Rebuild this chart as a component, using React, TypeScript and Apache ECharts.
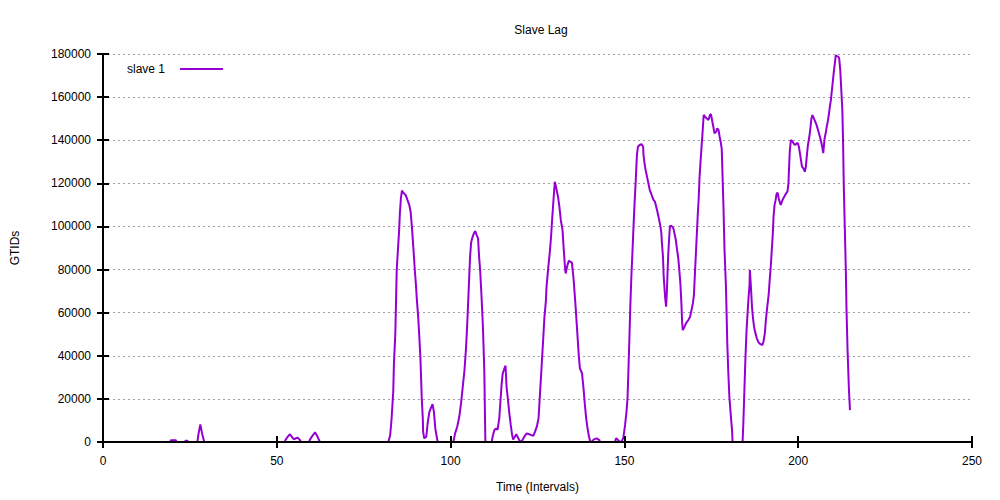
import React, { useEffect, useRef } from "react";
import * as echarts from "echarts";

const title = "Slave Lag";
const seriesName = "slave 1";
const xTicks = [0, 50, 100, 150, 200, 250];
const yTicks = [0, 20000, 40000, 60000, 80000, 100000, 120000, 140000, 160000, 180000];

const intervals = [
  0, 19, 19.5, 21, 21.5, 23.3, 23.7, 24.3, 24.7, 27, 27.5, 28, 28.5, 29.2, 29.8,
  52, 52.5, 53.3, 53.8, 54.5, 55, 55.5, 56, 56.5, 57.2, 57.8, 59, 59.5, 60.3, 61, 61.7, 62.4, 63,
  81.5, 82.1, 82.6, 83, 83.5, 83.7, 84.1, 84.3, 84.5, 84.9, 85.2, 85.4, 85.7, 86.0, 86.4, 87.1, 87.6,
  88.1, 88.5, 88.9, 89.3, 89.7, 90.0, 90.3, 90.7, 91.0, 91.3, 91.5, 91.7, 92.0, 92.1, 92.4, 93.0,
  93.4, 93.9, 94.4, 94.8, 95.2, 95.6, 96.0, 96.3, 97, 98.5, 100, 100.8, 101.3, 101.9, 102.5, 103.0,
  103.4, 104.0, 104.4, 104.7, 105.0, 105.3, 105.6, 105.9, 106.2, 106.7, 107.1, 107.5, 107.9, 108.2,
  108.5, 108.9, 109.3, 109.7, 109.9, 110.0, 110.8, 111.5, 111.8, 112.1, 112.6, 113.1, 113.5, 114.0,
  114.4, 114.7, 115.0, 115.5, 115.8, 116.1, 116.5, 116.9, 117.3, 117.7, 118.0, 118.5, 118.9, 119.5,
  120.0, 120.7, 121.2, 121.9, 122.6, 123.3, 123.8, 124.3, 124.8, 125.3, 125.7, 126.2, 126.7, 127.0,
  127.4, 127.6, 128.1, 128.6, 128.9, 129.2, 129.5, 129.8, 130.0, 130.5, 130.9, 131.3, 131.7, 132.2,
  132.5, 132.9, 133.1, 133.5, 134.0, 134.5, 134.9, 135.4, 135.9, 136.4, 136.9, 137.2, 137.8, 138.2,
  138.6, 139.0, 139.4, 139.8, 140.2, 140.7, 141.2, 142.0, 142.8, 143.3, 147.0, 147.3, 147.6, 148.0,
  148.7, 149.2, 149.7, 150.2, 150.6, 150.9, 151.1, 151.4, 151.7, 152.0, 152.3, 152.6, 152.9, 153.2,
  153.4, 153.6, 153.9, 154.4, 154.9, 155.4, 155.5, 155.8, 156.1, 156.5, 156.9, 157.3, 157.7, 158.0,
  158.4, 158.8, 159.1, 159.5, 159.9, 160.3, 160.6, 160.8, 161.1, 161.3, 161.7, 162.0, 162.2, 162.4,
  162.6, 162.9, 163.1, 163.6, 164.1, 164.4, 164.8, 165.1, 165.5, 165.8, 166.1, 166.4, 166.6, 166.8,
  167.3, 167.8, 168.4, 168.9, 169.3, 169.7, 170.0, 170.2, 170.5, 170.8, 171.1, 171.4, 171.6, 171.9,
  172.2, 172.5, 172.8, 173.2, 173.7, 174.2, 174.6, 174.9, 175.3, 175.6, 175.9, 176.4, 176.7, 177.1,
  177.4, 177.7, 178.0, 178.3, 178.5, 178.8, 179.2, 179.4, 179.6, 179.9, 180.2, 180.6, 181.0, 181.1,
  182, 183.2, 184.0, 184.2, 184.5, 184.8, 185.1, 185.4, 185.7, 186.0, 186.1, 186.4, 186.7, 187.0,
  187.3, 187.7, 188.1, 188.5, 189.0, 189.7, 190.0, 190.4, 190.7, 191.1, 191.5, 191.8, 192.1, 192.4,
  192.7, 192.9, 193.2, 193.5, 193.8, 194.1, 194.4, 194.8, 195.0, 195.3, 195.7, 196.1, 196.5, 196.9,
  197.2, 197.4, 197.6, 197.9, 198.1, 198.4, 198.8, 199.2, 199.6, 199.9, 200.2, 200.5, 200.8, 201.1,
  201.5, 201.9, 202.2, 202.5, 202.8, 203.2, 203.5, 203.8, 204.1, 204.5, 204.9, 205.3, 205.7, 206.1,
  206.5, 206.9, 207.2, 207.6, 207.9, 208.2, 208.5, 208.8, 209.1, 209.4, 209.7, 210.0, 210.3, 210.6,
  210.8, 211.1, 211.6, 211.8, 212.1, 212.4, 212.7, 212.9, 213.1, 213.4, 213.7, 213.9, 214.2, 214.6,
  214.9,
];

const gtids = [
  -1500, -1500, 800, 800, -1500, -1500, 600, 600, -1500, -1500, 4000, 8200, 4000, -500, -1500,
  -1500, 1000, 2800, 3600, 2000, 1200, 1800, 2000, 1200, -500, -1500, -1500, 1000, 3000, 4500, 2500, 0, -1500,
  -1500, 0, 3000, 10200, 23300, 36600, 50400, 65100, 79800, 90600, 98300, 106000, 113000, 116600, 115600, 114500, 112200,
  110000, 106800, 99100, 89800, 79800, 73600, 65900, 57400, 48800, 39600, 30300, 20300, 11000, 4800, 1700, 2500,
  8700, 14000, 16100, 17500, 14000, 6300, 2500, 0, -6000, -9000, -5000, 0, 4000, 7100, 11700, 17900,
  24100, 33400, 42700, 51900, 62800, 74400, 85900, 92400, 94500, 96800, 97900, 96000, 94500, 85900,
  79800, 67400, 53500, 32600, 11000, 0, -10000, -4000, 0, 2500, 5600, 6300, 5600, 11000,
  20300, 27200, 31900, 34200, 35400, 25600, 19500, 13300, 7900, 3200, 1200, 2500, 3600, 1700,
  0, 900, 2500, 4000, 3600, 3200, 2800, 4800, 7100, 11000, 22000, 35500, 49500, 58100,
  65100, 72000, 81000, 89100, 95200, 103000, 110000, 116900, 120700, 116900, 113800, 109100, 103000, 98300,
  90600, 81300, 78200, 81300, 84100, 83600, 83200, 75100, 64300, 51900, 39600, 34200, 31900, 25600,
  17900, 11000, 6300, 2500, 0, 300, 1200, 1700, 900, -1500, -1500, 0, 1700, 1200,
  0, 200, 2000, 7900, 14000, 20300, 30300, 46000, 62800, 76700, 87500, 99100, 110000, 119200,
  126200, 133100, 137000, 137800, 138200, 137000, 133100, 129300, 126200, 123100, 120000, 116900, 115300, 113800,
  112200, 111500, 109500, 106800, 103800, 100600, 97500, 92200, 85900, 76700, 67400, 62800, 69000, 78200,
  86700, 95200, 100200, 100200, 99100, 96800, 93700, 89800, 85200, 79800, 73600, 64300, 55800, 51900,
  53500, 55300, 56600, 58100, 61200, 64300, 68200, 75100, 85200, 95200, 105300, 113800, 122300, 130000,
  137000, 143900, 151700, 150900, 150100, 149400, 151700, 152100, 148600, 146200, 143200, 143900, 145500, 144700,
  141600, 139300, 136000, 120000, 109100, 89100, 72800, 59700, 45800, 31900, 21000, 12500, 4800, 0,
  -9000, -8000, 0, 7900, 23000, 38000, 50400, 58900, 66700, 73000, 79800, 72000, 62800, 57400,
  53500, 50400, 48100, 46500, 45500, 45000, 46500, 50400, 56600, 62800, 68200, 75100, 81300, 89100,
  96800, 104500, 110000, 112200, 115300, 115600, 113000, 110700, 110000, 111500, 113000, 114100, 115300, 116100,
  120000, 128500, 135400, 140100, 140100, 139300, 138200, 137800, 138600, 138600, 137000, 133900, 130800, 127700,
  126900, 125400, 127700, 133100, 137800, 141600, 145500, 150100, 151700, 150100, 148600, 147000, 144700, 142400,
  140100, 137000, 134000, 140900, 143200, 146200, 148600, 151700, 155500, 158600, 163300, 167900, 172500, 176400,
  179500, 179000, 178700, 177900, 172500, 163300, 154000, 140100, 120000, 99900, 79800, 61200, 42700, 24100,
  14800,
];

const FONT = "Liberation Sans, Arial, sans-serif";

export default function App() {
  const ref = useRef<HTMLDivElement>(null);
  useEffect(() => {
    if (!ref.current) return;
    const chart = echarts.init(ref.current, null, { renderer: "svg" });
    const data = intervals.map((x, i) => [x, gtids[i]]);
    const axisLineStyle = { color: "#000", width: 2 };
    const tickCommon = { show: true, inside: true, length: 6, lineStyle: { color: "#000", width: 2 } };
    chart.setOption({
      animation: false,
      backgroundColor: "#fff",
      textStyle: { fontFamily: FONT },
      title: {
        text: title,
        left: 536,
        top: 19,
        textAlign: "center",
        textStyle: { fontSize: 12, fontWeight: "normal", color: "#000", fontFamily: FONT },
      },
      legend: {
        left: 122,
        top: 58,
        align: "right",
        icon: "rect",
        itemWidth: 43,
        itemHeight: 2,
        textStyle: { fontSize: 12, color: "#000", fontFamily: FONT, padding: [0, 10, 0, 0] },
        data: [seriesName],
      },
      grid: { left: 103, right: 28, top: 54, bottom: 58, containLabel: false },
      xAxis: [
        {
          type: "value",
          min: xTicks[0],
          max: xTicks[xTicks.length - 1],
          interval: 50,
          z: 10,
          name: "Time (Intervals)",
          nameLocation: "middle",
          nameGap: 39,
          nameTextStyle: { fontSize: 12, color: "#000", fontFamily: FONT },
          axisLine: { show: true, lineStyle: axisLineStyle },
          axisTick: tickCommon,
          axisLabel: { fontSize: 12, color: "#000", margin: 13, fontFamily: FONT },
          splitLine: { show: false },
        },
        {
          type: "value",
          position: "top",
          min: xTicks[0],
          max: xTicks[xTicks.length - 1],
          interval: 50,
          z: 10,
          axisLine: { show: true, lineStyle: axisLineStyle },
          axisTick: tickCommon,
          axisLabel: { show: false },
          splitLine: { show: false },
        },
      ],
      yAxis: [
        {
          type: "value",
          min: yTicks[0],
          max: yTicks[yTicks.length - 1],
          interval: 20000,
          z: 10,
          name: "GTIDs",
          nameLocation: "middle",
          nameGap: 82,
          nameRotate: 90,
          nameTextStyle: { fontSize: 12, color: "#000", fontFamily: FONT },
          axisLine: { show: true, lineStyle: axisLineStyle },
          axisTick: tickCommon,
          axisLabel: { fontSize: 12, color: "#000", margin: 12, fontFamily: FONT, formatter: (v: number) => String(v) },
          splitLine: { show: false },
        },
        {
          type: "value",
          position: "right",
          min: yTicks[0],
          max: yTicks[yTicks.length - 1],
          interval: 20000,
          z: 10,
          axisLine: { show: true, lineStyle: axisLineStyle },
          axisTick: tickCommon,
          axisLabel: { show: false },
          splitLine: { show: false },
        },
        {
          type: "value",
          min: yTicks[0],
          max: yTicks[yTicks.length - 1],
          interval: 20000,
          z: 0,
          axisLine: { show: false },
          axisTick: { show: false },
          axisLabel: { show: false },
          splitLine: { show: true, lineStyle: { color: "#a0a0a0", width: 1, type: [2, 3] } },
        },
      ],
      series: [
        {
          name: seriesName,
          type: "line",
          data,
          xAxisIndex: 0,
          yAxisIndex: 0,
          showSymbol: false,
          symbol: "none",
          clip: true,
          z: 2,
          lineStyle: { color: "#9400d3", width: 2 },
          itemStyle: { color: "#9400d3" },
        },
      ],
    });
    return () => chart.dispose();
  }, []);
  return <div ref={ref} style={{ position: "fixed", left: 0, top: 0, width: 1000, height: 500 }} />;
}
